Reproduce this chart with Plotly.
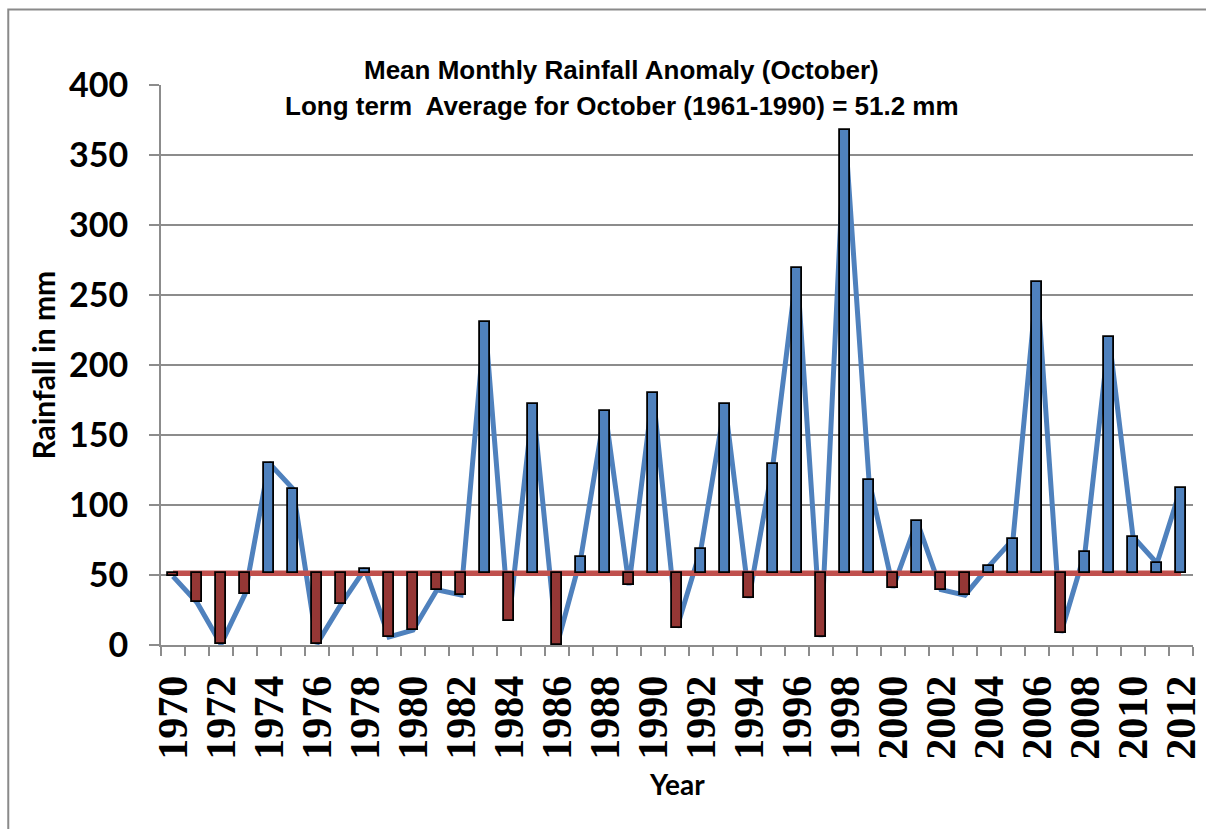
import plotly.graph_objects as go

years = list(range(1970, 2013))
rainfall = [49.0, 30.4, 0.5, 36.3, 130.0, 111.5, 0.8, 29.0, 54.4, 5.8,
            10.6, 39.4, 35.8, 231.0, 17.3, 172.0, 0.0, 63.0, 167.4, 42.7,
            180.3, 12.5, 68.9, 172.0, 33.7, 129.2, 269.0, 5.6, 368.0, 117.7,
            41.0, 88.4, 39.6, 35.6, 56.3, 75.4, 259.2, 8.7, 66.3, 219.9,
            77.3, 58.4, 112.3]
long_term_avg = 51.2
even_years = [y for y in years if y % 2 == 0]

title1 = "Mean Monthly Rainfall Anomaly (October)"
title2 = "Long term  Average for October (1961-1990) = 51.2 mm"

BLUE = "#4F81BD"
RED_LINE = "#C0504D"
RED_BAR = "#953735"
GRID = "#8C8C8C"

anom = [v - long_term_avg for v in rainfall]
bar_colors = [BLUE if a >= 0 else RED_BAR for a in anom]

fig = go.Figure()
fig.add_trace(go.Scatter(x=years, y=rainfall, mode="lines",
                         line=dict(color=BLUE, width=5), xaxis="x", yaxis="y",
                         showlegend=False, hoverinfo="skip"))
fig.add_trace(go.Scatter(x=years, y=[long_term_avg] * len(years), mode="lines",
                         line=dict(color=RED_LINE, width=5.5), xaxis="x", yaxis="y",
                         showlegend=False, hoverinfo="skip"))
fig.add_trace(go.Bar(x=years, y=anom, base=long_term_avg, width=0.42,
                     marker=dict(color=bar_colors, line=dict(color="black", width=1.8)),
                     xaxis="x2", yaxis="y2", showlegend=False))

xr = [1969.5, 2012.5]
yr = [0, 400]
fig.update_layout(
    width=1206, height=829,
    paper_bgcolor="white", plot_bgcolor="white",
    margin=dict(l=161, r=13, t=85, b=184, autoexpand=False),
    xaxis=dict(range=xr, tickmode="array", tickvals=even_years,
               ticktext=[str(y) for y in even_years], tickangle=-90,
               ticks="", showgrid=False, zeroline=False, automargin=False,
               showline=True, linecolor=GRID, linewidth=2,
               ticklabeloverflow="allow",
               tickfont=dict(family="Liberation Serif, Times New Roman, serif",
                             size=42, color="black", weight="bold"),
               ticklabelstandoff=12,
               minor=dict(tick0=1969.5, dtick=1, ticks="outside", ticklen=9,
                          tickcolor=GRID, tickwidth=2, showgrid=False)),
    yaxis=dict(range=yr, dtick=50, showgrid=True, gridcolor=GRID, gridwidth=2,
               zeroline=False, showline=True, linecolor=GRID, linewidth=2,
               automargin=False,
               ticks="outside", ticklen=10, tickcolor=GRID, tickwidth=2,
               ticklabelstandoff=14,
               tickfont=dict(family="Lato, Carlito, sans-serif", size=34,
                             color="black", weight="bold")),
    xaxis2=dict(range=xr, overlaying="x", visible=False, automargin=False),
    yaxis2=dict(range=yr, overlaying="y", visible=False, automargin=False),
    bargap=0,
)

fig.add_annotation(text=title1, x=0.4467, y=1.027, xref="paper", yref="paper",
                   showarrow=False, xanchor="center", yanchor="middle",
                   font=dict(family="Liberation Sans Narrow, Arial Narrow, sans-serif",
                             size=26, color="black", weight="bold"))
fig.add_annotation(text=title2, x=0.4467, y=0.963, xref="paper", yref="paper",
                   showarrow=False, xanchor="center", yanchor="middle",
                   font=dict(family="Liberation Sans Narrow, Arial Narrow, sans-serif",
                             size=26, color="black", weight="bold"))
fig.add_annotation(text="Rainfall in mm", x=-0.1143, y=0.499, xref="paper", yref="paper",
                   showarrow=False, textangle=-90, xanchor="center", yanchor="middle",
                   font=dict(family="Lato, Carlito, sans-serif", size=30,
                             color="black", weight="bold"))
fig.add_annotation(text="Year", x=0.5, y=-0.249, xref="paper", yref="paper",
                   showarrow=False, xanchor="center", yanchor="middle",
                   font=dict(family="Lato, Carlito, sans-serif", size=28,
                             color="black", weight="bold"))

fig.add_shape(type="rect", xref="paper", yref="paper",
              x0=-0.148, y0=-0.6, x1=1.2, y1=1.135,
              line=dict(color="#8A8A8A", width=2), fillcolor="rgba(0,0,0,0)",
              layer="below")

fig.write_html("out.html", config={"displayModeBar": False},
               post_script="document.body.style.margin='0';"
                           "document.body.style.overflow='hidden';")
